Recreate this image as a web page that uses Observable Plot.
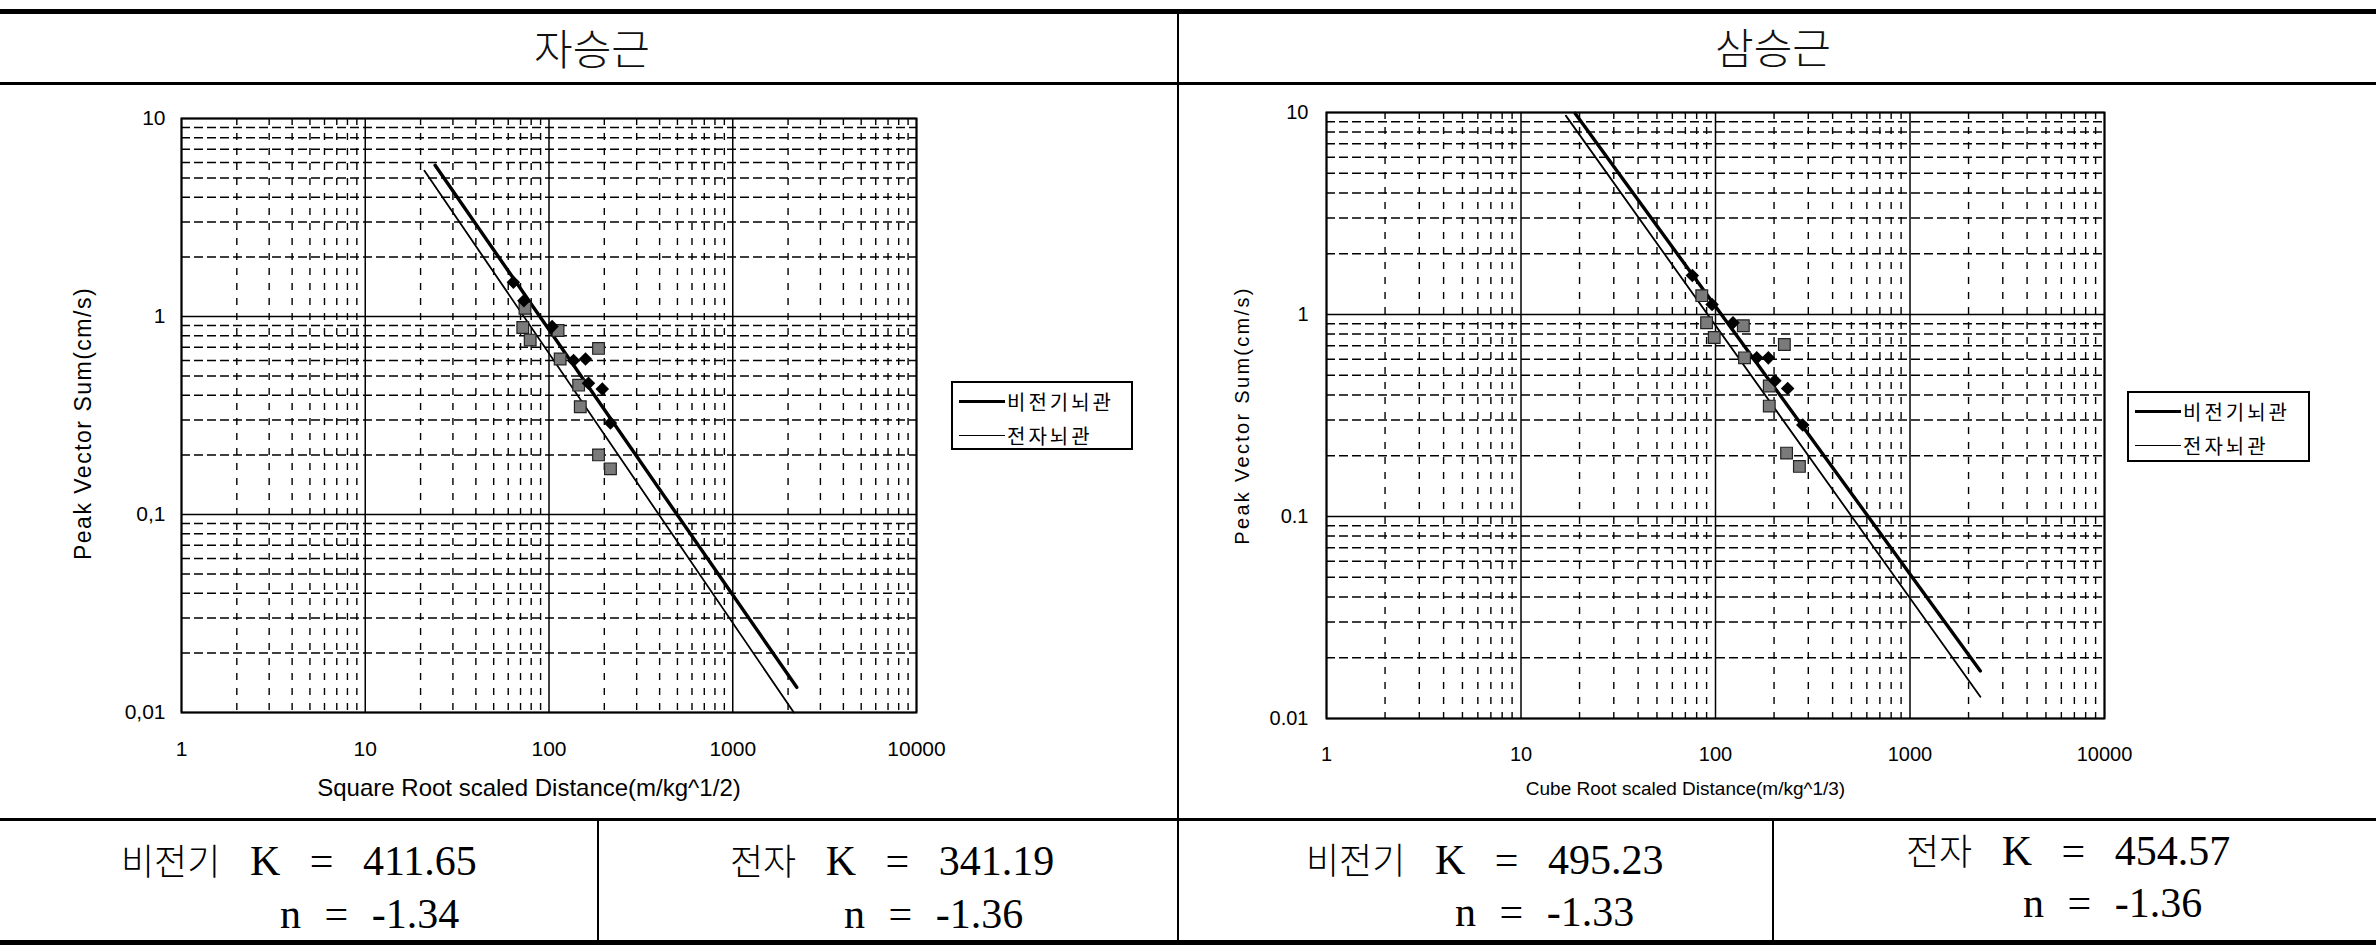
<!DOCTYPE html>
<html>
<head>
<meta charset="utf-8">
<script src="https://cdn.jsdelivr.net/npm/d3@7"></script>
<script src="https://cdn.jsdelivr.net/npm/@observablehq/plot@0.6"></script>
<style>
  html, body { margin: 0; padding: 0; background: #fff; }
  #page { position: relative; width: 2376px; height: 947px; overflow: hidden; background: #fff; }
  .bar { position: absolute; background: #000; }
  .ptitle { position: absolute; transform: translate(-50%, -50%); font-family: "Noto Sans CJK KR", sans-serif; font-size: 42px; font-weight: 300; color: #111; white-space: nowrap; }
  .chart { position: absolute; }
  .legend { position: absolute; box-sizing: border-box; border: 2px solid #000; background: #fff; font-family: "Noto Sans CJK KR", sans-serif; font-size: 20px; letter-spacing: 3px; color: #000; }
  .legrow { position: absolute; left: 6px; display: flex; align-items: center; white-space: nowrap; }
  .legline { display: inline-block; width: 46px; background: #000; margin-right: 2px; }
  .eq { position: absolute; transform: translateY(-50%); font-family: "Liberation Serif", "Noto Sans CJK KR", serif; font-size: 42px; word-spacing: 13px; color: #000; white-space: nowrap; }
  .eq.k { word-spacing: 19px; }
  .eq .ko { font-family: "Noto Sans CJK KR", sans-serif; font-size: 36px; font-weight: 300; word-spacing: 0; }
</style>
</head>
<body>
<div id="page"></div>
<script>
// ---------- data ----------
const xTicks = [1, 10, 100, 1000, 10000];
const xTickLabels = ["1", "10", "100", "1000", "10000"];
const yTicks = [0.01, 0.1, 1, 10];
const yTickLabelsSqrt = ["0,01", "0,1", "1", "10"];
const yTickLabelsCube = ["0.01", "0.1", "1", "10"];
const minorSteps = [2, 3, 4, 5, 6, 7, 8, 9];

const panelTitles = ["자승근", "삼승근"];
const xTitles = ["Square Root scaled Distance(m/kg^1/2)", "Cube Root scaled Distance(m/kg^1/3)"];
const yTitle = "Peak Vector Sum(cm/s)";
const seriesNames = ["비전기뇌관", "전자뇌관"];
const shortNames = ["비전기", "전자", "비전기", "전자"];
const kValues = [411.65, 341.19, 495.23, 454.57];
const nValues = [-1.34, -1.36, -1.33, -1.36];

// 자승근 (square-root scaled distance)
const sqrtNonelecX = [64, 73, 104, 136, 158, 164, 195, 216];
const sqrtNonelecY = [1.49, 1.2, 0.89, 0.60, 0.61, 0.46, 0.43, 0.29];
const sqrtElecX = [74, 72, 79, 112, 186, 115, 145, 148, 186, 216];
const sqrtElecY = [1.1, 0.88, 0.76, 0.85, 0.69, 0.61, 0.45, 0.35, 0.2, 0.17];
const sqrtFitNonelecX = [24, 2230];
const sqrtFitNonelecY = [5.8, 0.0134];
const sqrtFitElecX = [21, 2150];
const sqrtFitElecY = [5.45, 0.01];

// 삼승근 (cube-root scaled distance)
const cubeNonelecX = [76, 96, 123, 163, 187, 202, 235, 281];
const cubeNonelecY = [1.56, 1.12, 0.91, 0.61, 0.61, 0.47, 0.43, 0.284];
const cubeElecX = [85, 90, 98.5, 139, 226, 141, 189, 189, 232, 270];
const cubeElecY = [1.24, 0.91, 0.77, 0.88, 0.71, 0.61, 0.443, 0.352, 0.206, 0.177];
const cubeFitNonelecX = [19, 2300];
const cubeFitNonelecY = [9.9, 0.0172];
const cubeFitElecX = [17, 2300];
const cubeFitElecY = [9.65, 0.0128];

// ---------- helpers ----------
const page = document.getElementById("page");
function div(cls, css, text) {
  const d = document.createElement("div");
  d.className = cls;
  Object.assign(d.style, css);
  if (text != null) d.textContent = text;
  page.appendChild(d);
  return d;
}
const pts = (X, Y) => X.map((x, i) => ({x, y: Y[i]}));
const xMinor = xTicks.slice(0, -1).flatMap(d => minorSteps.map(m => d * m));
const yMinor = yTicks.slice(0, -1).flatMap(d => minorSteps.map(m => d * m));

function panel(o) {
  const svg = Plot.plot({
    width: o.width, height: o.height,
    marginLeft: o.mL, marginRight: o.mR, marginTop: o.mT, marginBottom: o.mB,
    style: {background: "transparent", color: "#000", fontFamily: o.tickFamily, fontSize: o.tickFont + "px", overflow: "visible"},
    x: {type: "log", domain: [1, 10000], ticks: xTicks, tickFormat: d => xTickLabels[xTicks.indexOf(d)], tickSize: 0, tickPadding: o.xPad, label: null},
    y: {type: "log", domain: [0.01, 10], ticks: yTicks, tickFormat: d => o.yLabels[yTicks.indexOf(d)], tickSize: 0, tickPadding: o.yPad, label: null},
    marks: [
      Plot.ruleX(xMinor, {stroke: "#000", strokeWidth: 1.4, strokeDasharray: "7,8"}),
      Plot.ruleY(yMinor, {stroke: "#000", strokeWidth: 1.5, strokeDasharray: "9,4"}),
      Plot.ruleX(xTicks, {stroke: "#000", strokeWidth: 1.5}),
      Plot.ruleY(yTicks, {stroke: "#000", strokeWidth: 1.6}),
      Plot.frame({stroke: "#000", strokeWidth: 2}),
      Plot.line(pts(o.fitNX, o.fitNY), {x: "x", y: "y", stroke: "#000", strokeWidth: 3.4}),
      Plot.line(pts(o.fitEX, o.fitEY), {x: "x", y: "y", stroke: "#000", strokeWidth: 1.8}),
      Plot.dot(pts(o.elX, o.elY), {x: "x", y: "y", symbol: "square", r: 6.6, fill: "#7a7a7a", stroke: "#222", strokeWidth: 1.2}),
      Plot.dot(pts(o.nonX, o.nonY), {x: "x", y: "y", symbol: "square", rotate: 45, r: 5.4, fill: "#000"}),
      Plot.text([o.xTitle], {frameAnchor: "bottom", text: d => d, textAnchor: "middle", lineAnchor: "middle", dx: o.xTitleDx, dy: o.xTitleDy, fontSize: o.xTitleFont, fontFamily: "Liberation Sans, Arial, sans-serif", fill: "#000"}),
      Plot.text([yTitle], {frameAnchor: "left", text: d => d, textAnchor: "middle", lineAnchor: "middle", rotate: -90, dx: o.yTitleDx, dy: o.yTitleDy, fontSize: o.yTitleFont, fontFamily: "Liberation Sans, Arial, sans-serif", fill: "#000"})
    ]
  });
  svg.querySelectorAll("text").forEach(t => {
    if (t.textContent === yTitle) t.style.letterSpacing = o.yTitleSpacing + "px";
  });
  const wrap = div("chart", {left: o.left + "px", top: o.top + "px", width: o.width + "px", height: o.height + "px"});
  wrap.appendChild(svg);
}

// ---------- table rules ----------
div("bar", {left: "0px", top: "9px", width: "2376px", height: "5px"});
div("bar", {left: "0px", top: "82px", width: "2376px", height: "3px"});
div("bar", {left: "0px", top: "818px", width: "2376px", height: "3px"});
div("bar", {left: "0px", top: "940px", width: "2376px", height: "5px"});
div("bar", {left: "1177px", top: "9px", width: "2px", height: "936px"});
div("bar", {left: "597px", top: "820px", width: "2px", height: "122px"});
div("bar", {left: "1772px", top: "820px", width: "2px", height: "122px"});

// ---------- panel titles ----------
div("ptitle", {left: "592px", top: "46px"}, panelTitles[0]);
div("ptitle", {left: "1773px", top: "45px"}, panelTitles[1]);

// ---------- charts ----------
panel({
  left: 0, top: 85, width: 1176, height: 733, mL: 181, mR: 260, mT: 33, mB: 106,
  yLabels: yTickLabelsSqrt, tickFont: 21, tickFamily: "Liberation Sans, Arial, sans-serif", xPad: 29, yPad: 16,
  nonX: sqrtNonelecX, nonY: sqrtNonelecY, elX: sqrtElecX, elY: sqrtElecY,
  fitNX: sqrtFitNonelecX, fitNY: sqrtFitNonelecY, fitEX: sqrtFitElecX, fitEY: sqrtFitElecY,
  xTitle: xTitles[0], xTitleFont: 24, xTitleDx: -20, xTitleDy: 76,
  yTitleFont: 23, yTitleDx: -98, yTitleDy: 8, yTitleSpacing: 1.5
});
panel({
  left: 1180, top: 85, width: 1196, height: 733, mL: 146, mR: 272, mT: 27, mB: 100,
  yLabels: yTickLabelsCube, tickFont: 20, tickFamily: "Liberation Sans Narrow, Liberation Sans, Arial, sans-serif", xPad: 28, yPad: 18,
  nonX: cubeNonelecX, nonY: cubeNonelecY, elX: cubeElecX, elY: cubeElecY,
  fitNX: cubeFitNonelecX, fitNY: cubeFitNonelecY, fitEX: cubeFitElecX, fitEY: cubeFitElecY,
  xTitle: xTitles[1], xTitleFont: 19, xTitleDx: -30, xTitleDy: 70,
  yTitleFont: 20, yTitleDx: -84, yTitleDy: 0, yTitleSpacing: 2.3
});

// ---------- legends ----------
function legend(left, top, w, h) {
  const box = div("legend", {left: left + "px", top: top + "px", width: w + "px", height: h + "px"});
  const widths = [3.4, 1.8];
  seriesNames.forEach((name, i) => {
    const row = document.createElement("div");
    row.className = "legrow";
    row.style.top = (i === 0 ? 4 : 38) + "px";
    const ln = document.createElement("span");
    ln.className = "legline";
    ln.style.height = widths[i] + "px";
    const tx = document.createElement("span");
    tx.textContent = name;
    row.appendChild(ln); row.appendChild(tx);
    box.appendChild(row);
  });
}
legend(951, 381, 182, 69);
legend(2127, 391, 183, 71);

// ---------- K / n equations ----------
const eqK = [[121, 859], [730, 859], [1306, 858], [1906, 849]];
const eqN = [[280, 914], [844, 914], [1455, 912], [2023, 903]];
kValues.forEach((k, i) => {
  const dk = div("eq k", {left: eqK[i][0] + "px", top: eqK[i][1] + "px"});
  const ko = document.createElement("span");
  ko.className = "ko";
  ko.textContent = shortNames[i];
  dk.appendChild(ko);
  dk.appendChild(document.createTextNode(` K = ${k.toFixed(2)}`));
  div("eq", {left: eqN[i][0] + "px", top: eqN[i][1] + "px"}, `n = ${nValues[i].toFixed(2)}`);
});
</script>
</body>
</html>
